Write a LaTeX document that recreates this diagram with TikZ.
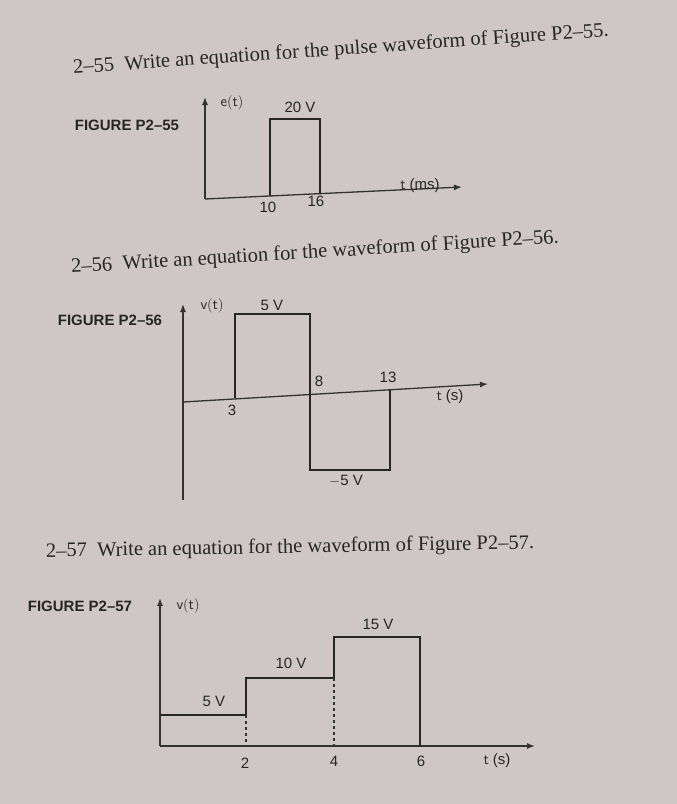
\documentclass[tikz,border=0pt]{standalone}
\usepackage{fontspec}
\usetikzlibrary{arrows.meta}
\setmainfont{Liberation Serif}
\newfontfamily\figsans{Liberation Sans}
\begin{document}
\begin{tikzpicture}[x=1pt,y=-1pt,
  body/.style={font=\fontsize{20.5}{22}\selectfont, text=black!85},
  figlab/.style={font=\figsans\bfseries\fontsize{15}{17}\selectfont, text=black!85},
  lab/.style={font=\figsans\fontsize{15}{17}\selectfont, text=black!85},
  ax/.style={line width=1.3pt, draw=black!80},
  axarr/.style={ax,-{Latex[length=8pt,width=6pt]}},
  wave/.style={line width=2.4pt, draw=black!85},
  dsh/.style={line width=1.2pt, dashed, draw=black!80}]
\fill[fill={rgb,255:red,206;green,199;blue,197}] (0,0) rectangle (677,804);
\useasboundingbox (0,0) rectangle (677,804);
% texts
\node[body, rotate=4] (t1) at (341,50) {2–55\ \ Write an equation for the pulse waveform of Figure P2–55.};
\node[body, rotate=3.5] (t2) at (315,253) {2–56\ \ Write an equation for the waveform of Figure P2–56.};
\node[body, rotate=1] (t3) at (290,548) {2–57\ \ Write an equation for the waveform of Figure P2–57.};
% Figure P2-55
\node[figlab] (f1) at (127,125) {FIGURE P2–55};
\coordinate (o1) at (205,199);
\coordinate (y1) at (205,97);
\coordinate (x1) at (462,187);
\draw[axarr] (o1) -- (y1);
\draw[axarr] (o1) -- (x1);
\draw[wave] (270,196) -- (270,119) -- (320,119) -- (320,194);
\node[lab] (e1) at (232,103) {$\mathsf{e(t)}$};
\node[lab] (a1) at (300,107) {20 V};
\node[lab] (b1) at (268,207) {10};
\node[lab] (c1) at (316,201) {16};
\node[lab] (d1) at (420,186) {$\mathsf{t}$ (ms)};
% Figure P2-56
\node[figlab] (f2) at (110,320) {FIGURE P2–56};
\coordinate (o2) at (183,500);
\coordinate (y2) at (183,304);
\coordinate (xl2) at (183,402);
\coordinate (x2) at (488,384);
\draw[axarr] (o2) -- (y2);
\draw[axarr] (xl2) -- (x2);
\draw[wave] (235,398) -- (235,314) -- (310,314) -- (310,470) -- (390,470) -- (390,390);
\node[lab] (e2) at (212,306) {$\mathsf{v(t)}$};
\node[lab] (a2) at (272,305) {5 V};
\node[lab] (b2) at (232,410) {3};
\node[lab] (c2) at (319,381) {8};
\node[lab] (d2) at (388,377) {13};
\node[lab] (g2) at (450,397) {$\mathsf{t}$ (s)};
\node[lab] (h2) at (346,481) {$-$5 V};
% Figure P2-57
\node[figlab] (f3) at (80,606) {FIGURE P2–57};
\coordinate (o3) at (160,746);
\coordinate (y3) at (160,598);
\coordinate (x3) at (535,746);
\draw[axarr] (o3) -- (y3);
\draw[axarr] (o3) -- (x3);
\draw[wave] (160,715) -- (246,715) -- (246,678) -- (334,678) -- (334,637) -- (420,637) -- (420,746);
\draw[dsh] (246,715) -- (246,746);
\draw[dsh] (334,678) -- (334,746);
\node[lab] (e3) at (188,606) {$\mathsf{v(t)}$};
\node[lab] (a3) at (214,701) {5 V};
\node[lab] (b3) at (291,663) {10 V};
\node[lab] (c3) at (378,624) {15 V};
\node[lab] (d3) at (245,763) {2};
\node[lab] (g3) at (334,761) {4};
\node[lab] (h3) at (421,761) {6};
\node[lab] (k3) at (497,761) {$\mathsf{t}$ (s)};
\end{tikzpicture}
\end{document}
